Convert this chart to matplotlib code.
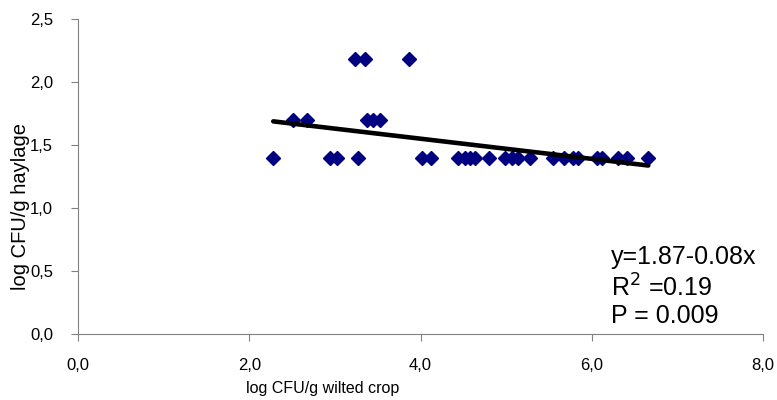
import matplotlib.pyplot as plt
import numpy as np

plt.rcParams['font.family'] = ['Liberation Sans', 'DejaVu Sans']

# log CFU/g wilted crop vs log CFU/g haylage
x_vals = [2.28, 2.94, 3.03, 3.27, 4.02, 4.12, 4.44, 4.52, 4.58, 4.64, 4.80, 4.99,
          5.07, 5.14, 5.28, 5.55, 5.67, 5.78, 5.84, 6.06, 6.12, 6.31, 6.41, 6.66,
          2.51, 2.68, 3.38, 3.45, 3.53,
          3.24, 3.35, 3.87]
y_vals = [1.40] * 24 + [1.70] * 5 + [2.18] * 3

intercept = 1.87
slope = -0.08

x_ticks = [0, 2, 4, 6, 8]
x_ticklabels = ['0,0', '2,0', '4,0', '6,0', '8,0']
y_ticks = [0, 0.5, 1.0, 1.5, 2.0, 2.5]
y_ticklabels = ['0,0', '0,5', '1,0', '1,5', '2,0', '2,5']

fig = plt.figure(figsize=(7.77, 4.0), dpi=100)
ax = fig.add_axes([0.1004, 0.165, 0.8816, 0.7875])

ax.plot(x_vals, y_vals, 'D', color='#000080', markersize=7, zorder=2)

# trend line from the equation printed on the chart
xl = np.array([min(x_vals), max(x_vals)])
ax.plot(xl, intercept + slope * xl, color='black', linewidth=3.3, solid_capstyle='round', zorder=3)

ax.set_xlim(0, 8)
ax.set_ylim(0, 2.5)
ax.set_xticks(x_ticks)
ax.set_xticklabels(x_ticklabels, fontsize=12)
ax.set_yticks(y_ticks)
ax.set_yticklabels(y_ticklabels, fontsize=12)
ax.tick_params(direction='out', length=5, color='#808080')
ax.tick_params(axis='x', pad=12)
ax.tick_params(axis='y', pad=13)

for s in ['top', 'right']:
    ax.spines[s].set_visible(False)
for s in ['left', 'bottom']:
    ax.spines[s].set_color('#808080')

fig.text(323 / 777, 1 - 389 / 400, 'log CFU/g wilted crop', ha='center', va='center',
         fontsize=11.5)
fig.text(21 / 777, 1 - 207 / 400, 'log CFU/g haylage', ha='center', va='center',
         rotation=90, fontsize=14.5)

ax.text(611 / 777, 1 - 257 / 400, 'y=1.87-0.08x', transform=fig.transFigure,
        ha='left', va='center', fontsize=18)
ax.text(611 / 777, 1 - 288 / 400, 'R$^2$ =0.19', transform=fig.transFigure,
        ha='left', va='center', fontsize=18)
ax.text(611 / 777, 1 - 316 / 400, 'P = 0.009', transform=fig.transFigure,
        ha='left', va='center', fontsize=18)

fig.savefig('out.png', dpi=100)
